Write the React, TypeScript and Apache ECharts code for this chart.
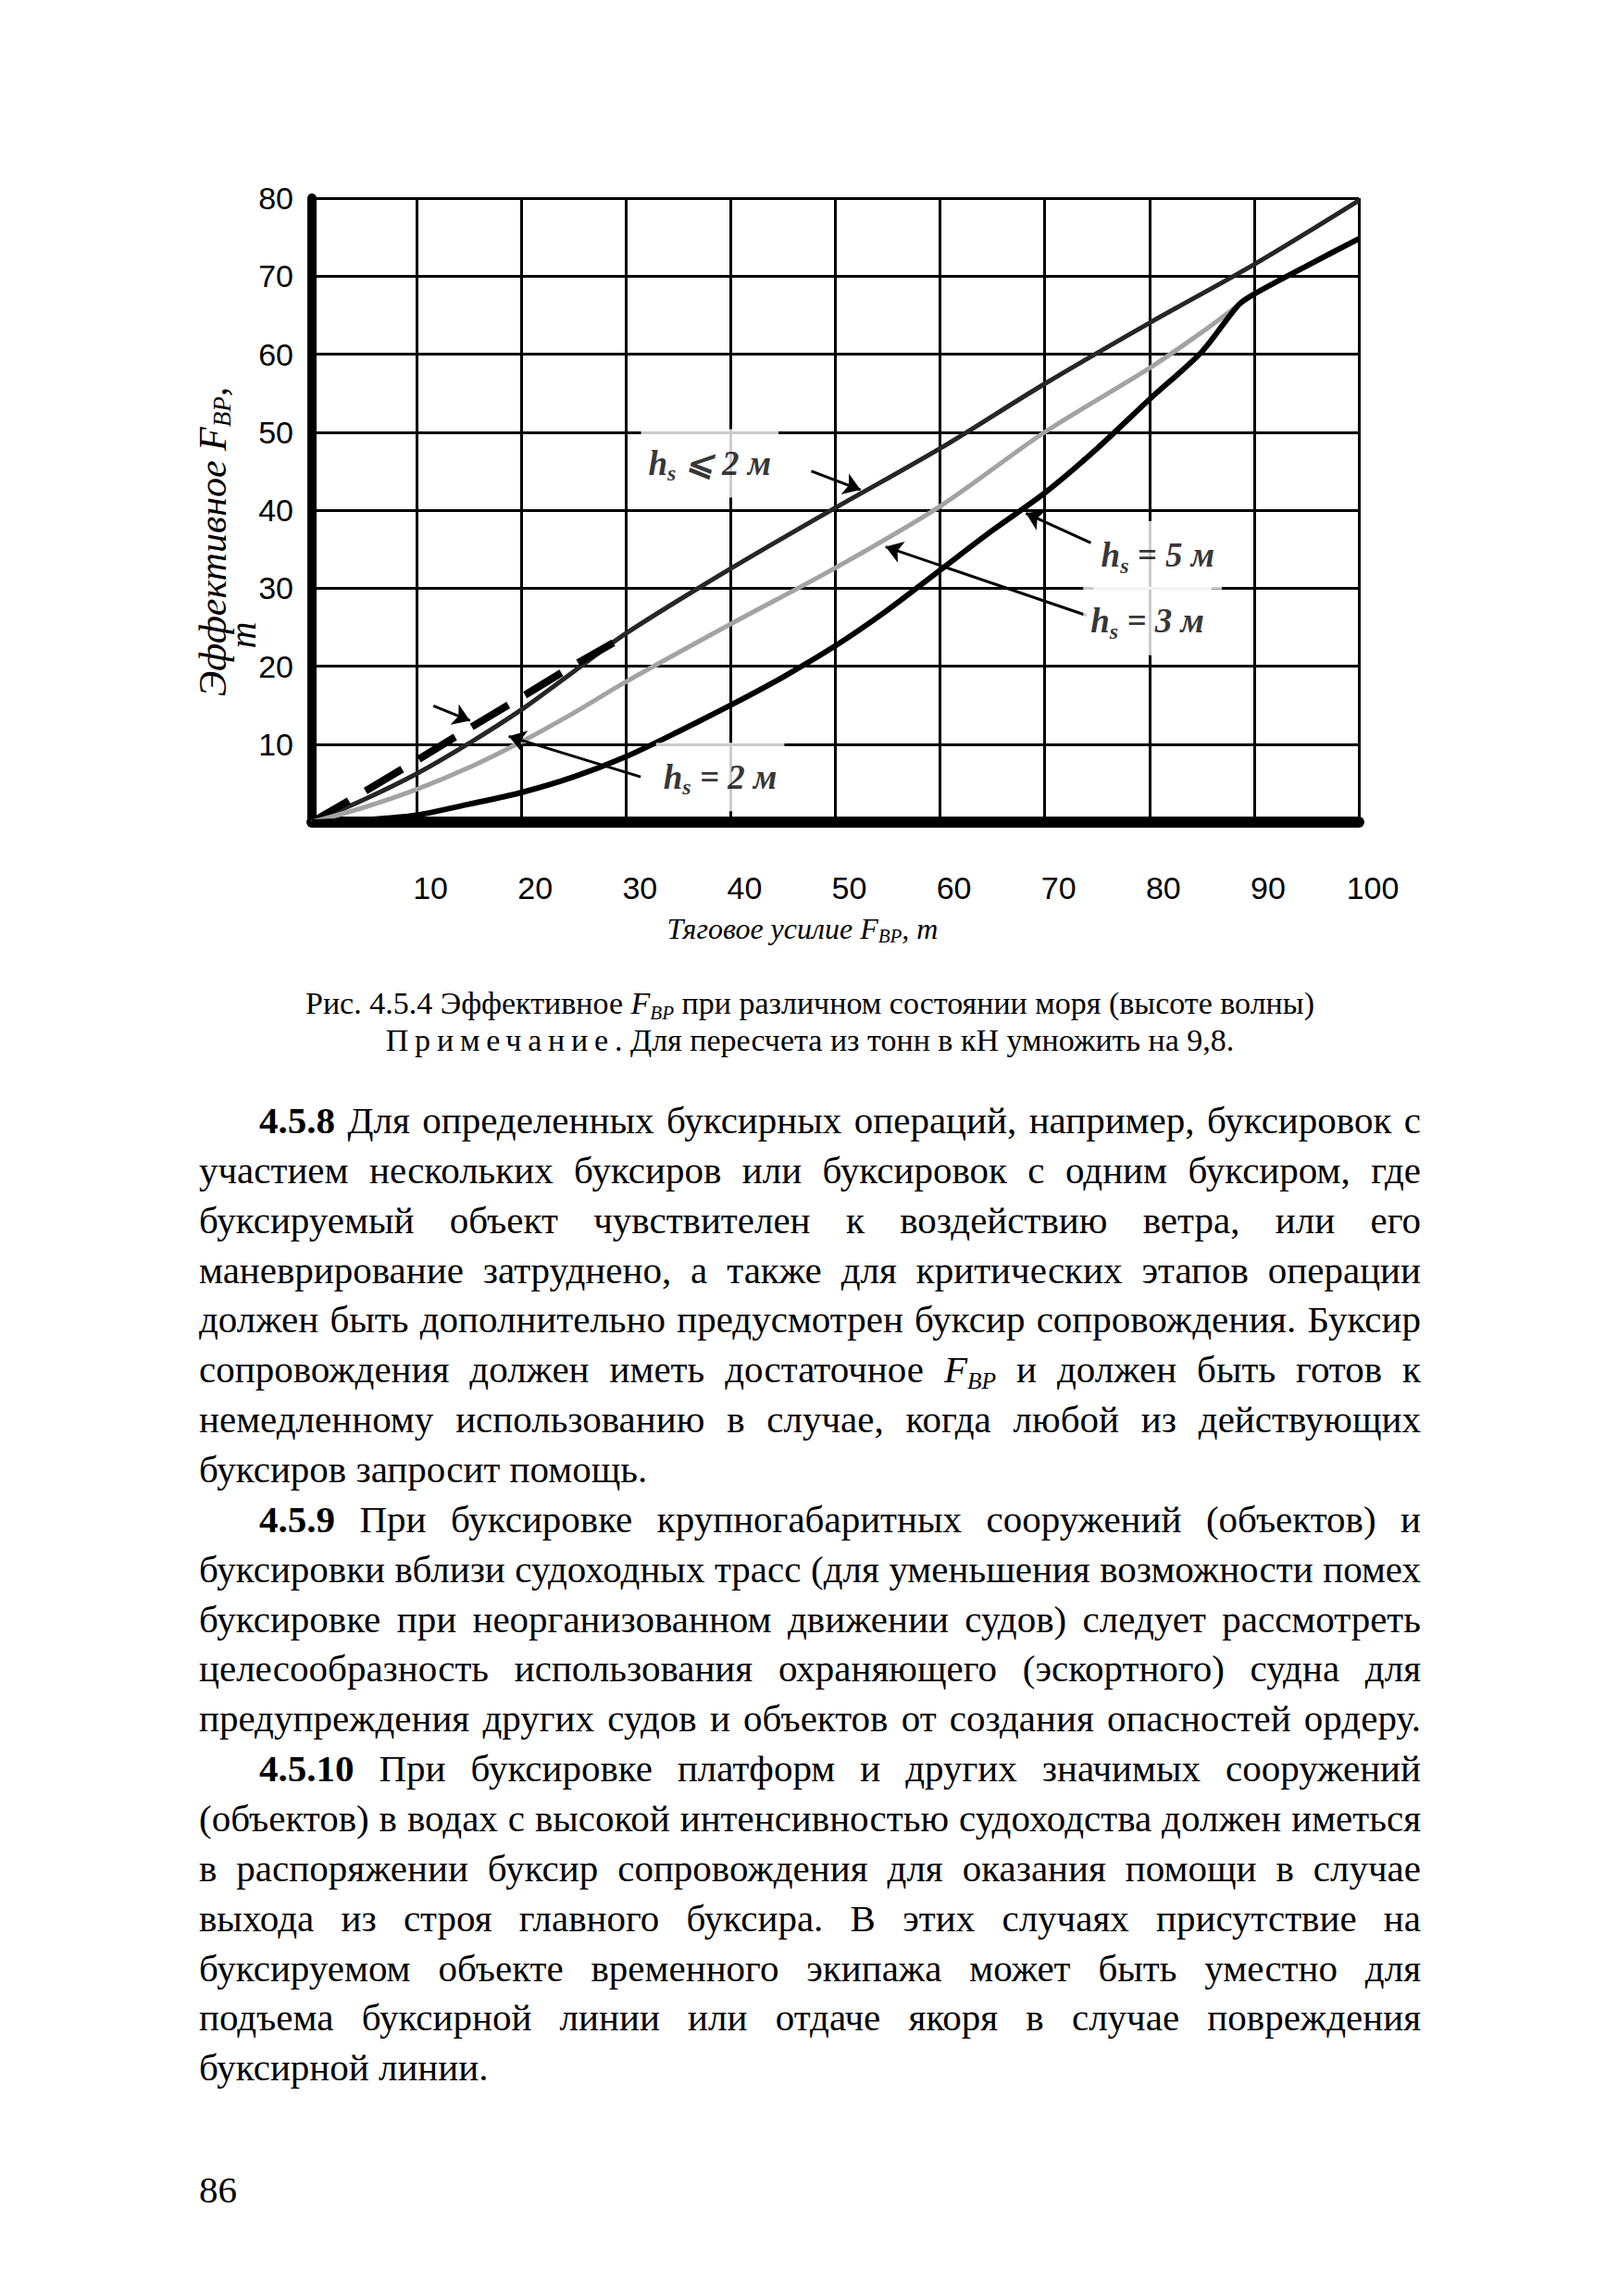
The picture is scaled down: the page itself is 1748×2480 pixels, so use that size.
import React, { useEffect, useRef } from 'react';
import * as echarts from 'echarts';

// ---------- tick labels ----------
const xTickLabels = ['10', '20', '30', '40', '50', '60', '70', '80', '90', '100'];
const yTickLabels = ['10', '20', '30', '40', '50', '60', '70', '80'];

// ---------- curves: [tow pull F_BP, effective F_BP] ----------
const hsUpTo2: number[][] = [
  [0, 0], [5, 2.9], [10, 6.2], [15, 10.1], [20, 14.4], [25, 19.3], [30, 24.2],
  [40, 32.5], [50, 40.3], [60, 47.9], [70, 56.2], [80, 64], [90, 71.5], [100, 79.7],
];
const hs2Dashed: number[][] = [
  [0, 0], [5, 3.9], [10, 7.9], [15, 12], [20, 16], [25, 20.1], [28.8, 23],
];
const hs3: number[][] = [
  [0, 0], [5, 1.9], [10, 4.2], [15, 7], [20, 10.3], [25, 14], [30, 18], [40, 25.4],
  [50, 32.6], [60, 40.5], [70, 50], [80, 58.2], [85, 62.8], [88.5, 66.3],
];
const hs5: number[][] = [
  [0, 0], [5, 0.3], [10, 0.9], [15, 2.3], [20, 3.8], [25, 5.8], [30, 8.4], [35, 11.6],
  [40, 15], [45, 18.6], [50, 22.6], [55, 27.2], [60, 32.3], [65, 37.4], [70, 42.2],
  [75, 47.9], [80, 54.2], [85, 60.3], [88.5, 66.3], [90, 67.7], [95, 71.3], [100, 74.8],
];

// ---------- annotations (data coordinates) ----------
const arrowLines: number[][][] = [
  [[47.7, 45], [52.4, 42.6]],
  [[74.4, 35.8], [68.2, 39.6]],
  [[74.0, 26.5], [54.8, 35.3]],
  [[31.4, 5.8], [18.8, 11]],
  [[11.6, 14.9], [15.1, 13]],
];
const curveLabelText = [' ⩽ 2 м', ' = 5 м', ' = 3 м', ' = 2 м'];
const curveLabelAt: number[][] = [[38, 46], [80.8, 34.2], [79.8, 25.8], [39, 5.8]];

// ---------- page text ----------
const captionLine1 = 'Рис. 4.5.4 Эффективное {F} при различном состоянии моря (высоте волны)';
const captionNoteWord = 'Примечание';
const captionLine2 = '. Для пересчета из тонн в кН умножить на 9,8.';

type BodyLine = { bold?: string; text: string; first?: boolean; last?: boolean };
const bodyLines: BodyLine[] = [
  { bold: '4.5.8', text: ' Для определенных буксирных операций, например, буксировок с', first: true },
  { text: 'участием нескольких буксиров или буксировок с одним буксиром, где' },
  { text: 'буксируемый объект чувствителен к воздействию ветра, или его' },
  { text: 'маневрирование затруднено, а также для критических этапов операции' },
  { text: 'должен быть дополнительно предусмотрен буксир сопровождения. Буксир' },
  { text: 'сопровождения должен иметь достаточное {F} и должен быть готов к' },
  { text: 'немедленному использованию в случае, когда любой из действующих' },
  { text: 'буксиров запросит помощь.', last: true },
  { bold: '4.5.9', text: ' При буксировке крупногабаритных сооружений (объектов) и', first: true },
  { text: 'буксировки вблизи судоходных трасс (для уменьшения возможности помех' },
  { text: 'буксировке при неорганизованном движении судов) следует рассмотреть' },
  { text: 'целесообразность использования охраняющего (эскортного) судна для' },
  { text: 'предупреждения других судов и объектов от создания опасностей ордеру.' },
  { bold: '4.5.10', text: ' При буксировке платформ и других значимых сооружений', first: true },
  { text: '(объектов) в водах с высокой интенсивностью судоходства должен иметься' },
  { text: 'в распоряжении буксир сопровождения для оказания помощи в случае' },
  { text: 'выхода из строя главного буксира. В этих случаях присутствие на' },
  { text: 'буксируемом объекте временного экипажа может быть уместно для' },
  { text: 'подъема буксирной линии или отдаче якоря в случае повреждения' },
  { text: 'буксирной линии.', last: true },
];
const pageNumber = '86';

const SERIF = "'Liberation Serif', 'Times New Roman', serif";
const SANS = "'Liberation Sans', Arial, sans-serif";

const FBP = () => (
  <i>
    F<sub style={{ fontSize: '0.62em', verticalAlign: '-0.28em', lineHeight: 0 }}>BP</sub>
  </i>
);

function withF(text: string) {
  const parts = text.split('{F}');
  return parts.map((p, i) => (
    <React.Fragment key={i}>
      {p}
      {i < parts.length - 1 && <FBP />}
    </React.Fragment>
  ));
}

function Chart() {
  const ref = useRef<HTMLDivElement>(null);
  useEffect(() => {
    if (!ref.current) return;
    const chart = echarts.init(ref.current, undefined, { renderer: 'svg' });
    const italic = { fontFamily: SERIF, fontStyle: 'italic' as const, color: '#000' };
    const labRich = {
      h: { ...italic, fontWeight: 'bold' as const, fontSize: 37 },
      s: { ...italic, fontWeight: 'bold' as const, fontSize: 24, padding: [22, 0, 0, 0] },
      t: { ...italic, fontWeight: 'bold' as const, fontSize: 37 },
    };
    const yTitleRich = {
      a: { ...italic, fontSize: 42 },
      f: { ...italic, fontSize: 42 },
      sub: { ...italic, fontSize: 27, padding: [20, 0, 0, 0] },
    };
    const xTitleRich = {
      a: { ...italic, fontSize: 32 },
      f: { ...italic, fontSize: 32 },
      sub: { ...italic, fontSize: 21, padding: [15, 0, 0, 0] },
    };
    const xLabel = (v: number) => {
      const i = Math.round(v / 10) - 1;
      return i >= 0 && i < xTickLabels.length ? xTickLabels[i] : '';
    };
    const yLabel = (v: number) => {
      const i = Math.round(v / 10) - 1;
      return i >= 0 && i < yTickLabels.length ? yTickLabels[i] : '';
    };
    chart.setOption({
      animation: false,
      backgroundColor: '#fff',
      grid: { left: 337, top: 214, width: 1131, height: 674, containLabel: false },
      xAxis: {
        type: 'value', min: 0, max: 100, interval: 10,
        axisLine: { show: true, onZero: false, lineStyle: { color: '#000', width: 12 } },
        axisTick: { show: false },
        splitLine: { show: true, lineStyle: { color: '#000', width: 3 } },
        axisLabel: {
          formatter: xLabel, fontFamily: SANS, fontSize: 34, color: '#000',
          margin: 54, padding: [0, 0, 0, 30],
        },
      },
      yAxis: {
        type: 'value', min: 0, max: 80, interval: 10,
        axisLine: { show: true, onZero: false, lineStyle: { color: '#000', width: 10 } },
        axisTick: { show: false },
        splitLine: { show: true, lineStyle: { color: '#000', width: 3 } },
        axisLabel: { formatter: yLabel, fontFamily: SANS, fontSize: 34, color: '#000', margin: 20 },
      },
      graphic: [
        {
          type: 'text', x: 230, y: 585, rotation: Math.PI / 2,
          style: {
            text: '{a|Эффективное }{f|F}{sub|BP}{a|,}', rich: yTitleRich,
            align: 'center', verticalAlign: 'middle',
          },
        },
        {
          type: 'text', x: 262, y: 686, rotation: Math.PI / 2,
          style: { text: 'т', ...italic, fontSize: 40, align: 'center', verticalAlign: 'middle', fill: '#000' },
        },
        {
          type: 'text', x: 867, y: 1003,
          style: {
            text: '{a|Тяговое усилие }{f|F}{sub|BP}{a|, т}', rich: xTitleRich,
            align: 'center', verticalAlign: 'middle',
          },
        },
      ],
      series: [
        {
          name: 'hs ≤ 2 м', type: 'line', data: hsUpTo2, showSymbol: false, symbol: 'none',
          smooth: 0.3, lineStyle: { color: '#262626', width: 5 }, z: 3,
        },
        {
          name: 'hs = 2 м', type: 'line', data: hs2Dashed, showSymbol: false, symbol: 'none',
          lineStyle: { color: '#000', width: 8, type: [46, 21], cap: 'butt' }, z: 3,
        },
        {
          name: 'hs = 3 м', type: 'line', data: hs3, showSymbol: false, symbol: 'none',
          smooth: 0.3, lineStyle: { color: '#a3a3a3', width: 5 }, z: 3,
        },
        {
          name: 'hs = 5 м', type: 'line', data: hs5, showSymbol: false, symbol: 'none',
          smooth: 0.3, lineStyle: { color: '#000', width: 6 }, z: 3,
        },
        {
          type: 'lines', coordinateSystem: 'cartesian2d', polyline: false,
          data: arrowLines.map((c) => ({ coords: c })),
          symbol: ['none', 'arrow'], symbolSize: 18,
          lineStyle: { color: '#000', width: 3, opacity: 1, curveness: 0 },
          silent: true, z: 5,
        },
        {
          type: 'scatter', symbolSize: 0, silent: true, z: 6,
          itemStyle: { color: 'rgba(0,0,0,0)' },
          data: curveLabelAt.map((p, i) => ({
            value: p,
            label: {
              show: true, position: 'inside',
              formatter: '{h|h}{s|s}{t|' + curveLabelText[i] + '}',
              rich: labRich, backgroundColor: '#fff', padding: [14, 8, 14, 8],
            },
          })),
        },
      ],
    });
    return () => chart.dispose();
  }, []);
  return (
    <div
      ref={ref}
      style={{ position: 'absolute', left: 0, top: 0, width: 1748, height: 1050 }}
    />
  );
}

export default function App() {
  const lineH = 53.86;
  return (
    <div
      style={{
        position: 'absolute', left: 0, top: 0, width: 1748, height: 2480,
        background: '#fff', overflow: 'hidden', color: '#000', fontFamily: SERIF,
      }}
    >
      <Chart />
      <div
        style={{
          position: 'absolute', left: 215, top: 1064, width: 1320,
          textAlign: 'center', fontSize: 34, lineHeight: '40px',
        }}
      >
        <div>{withF(captionLine1)}</div>
        <div>
          <span style={{ letterSpacing: '0.2em' }}>{captionNoteWord}</span>
          {captionLine2}
        </div>
      </div>
      <div
        style={{
          position: 'absolute', left: 215, top: 1184, width: 1320,
          fontSize: 41, lineHeight: lineH + 'px',
        }}
      >
        {bodyLines.map((l, i) => (
          <div
            key={i}
            style={{
              height: lineH,
              textAlign: 'justify',
              textAlignLast: l.last ? 'left' : 'justify',
              textIndent: l.first ? 65 : 0,
              whiteSpace: 'nowrap',
            }}
          >
            {l.bold && <b>{l.bold}</b>}
            {withF(l.text)}
          </div>
        ))}
      </div>
      <div
        style={{
          position: 'absolute', left: 215, top: 2339, fontSize: 41, lineHeight: lineH + 'px',
        }}
      >
        {pageNumber}
      </div>
    </div>
  );
}
